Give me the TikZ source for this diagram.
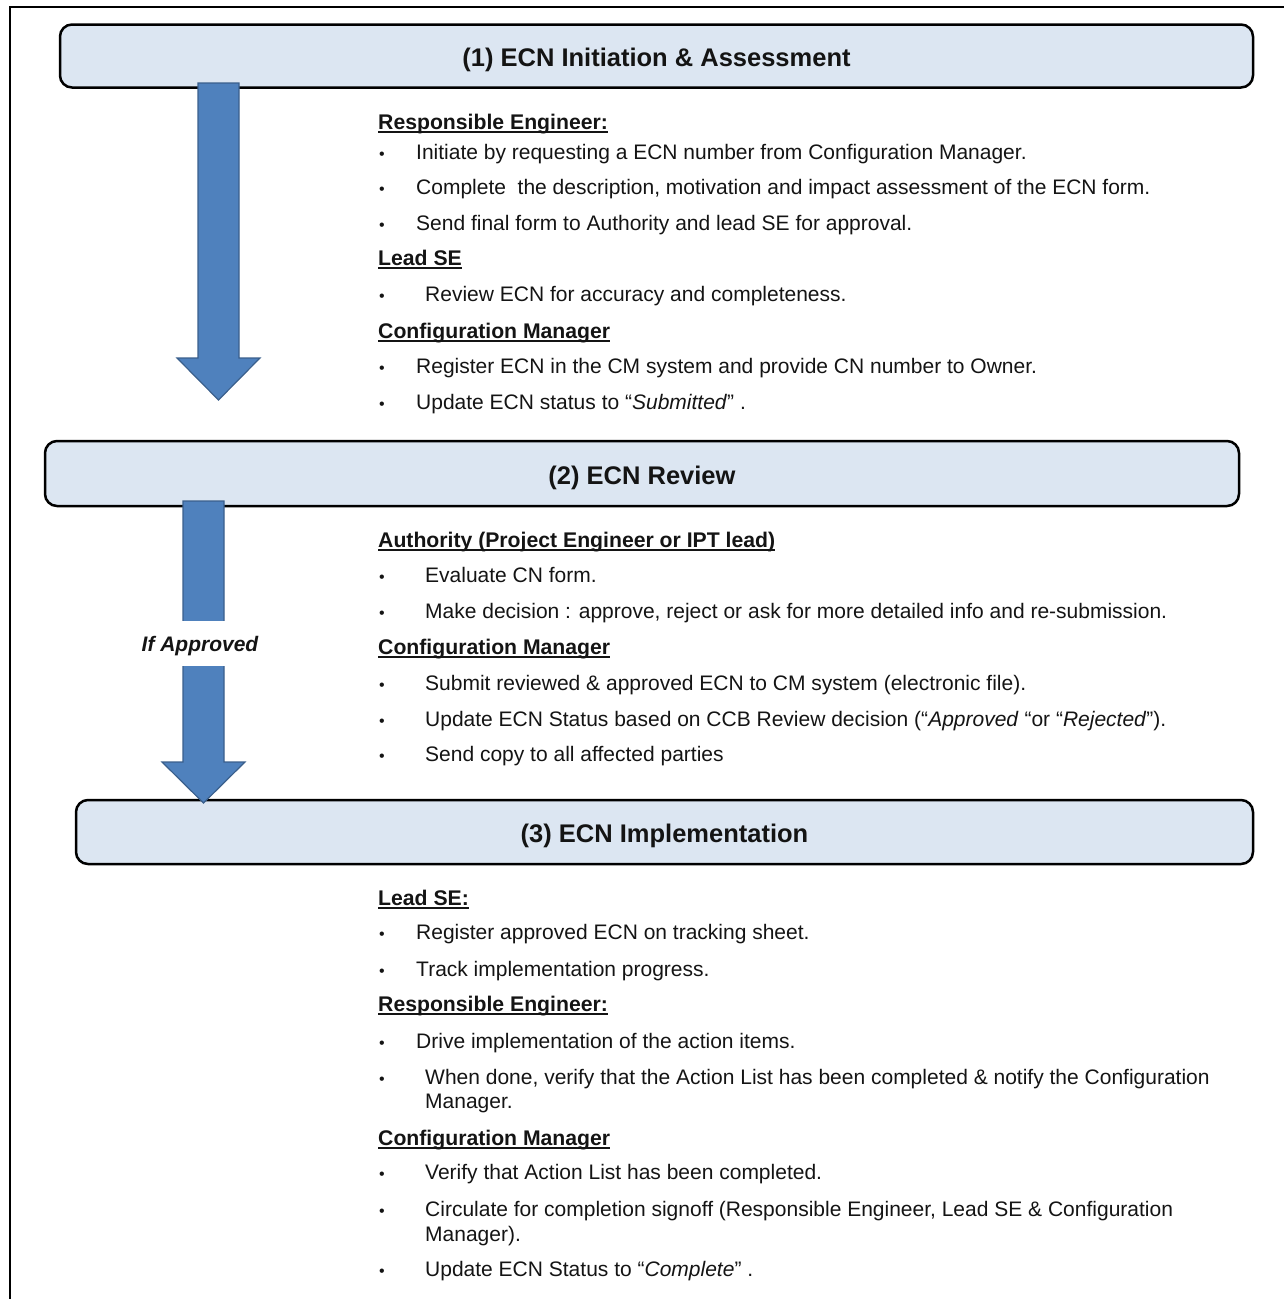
\documentclass[tikz,border=0pt]{standalone}
\usepackage{fontspec}
\setmainfont{Liberation Sans}
\definecolor{boxfill}{HTML}{DCE6F2}
\definecolor{arrfill}{HTML}{4F81BD}
\definecolor{arrline}{HTML}{3A5F8C}
\definecolor{txtcol}{HTML}{141414}
\newcommand\hditem[3]{%
  \node[hd] (#1) at (378,#2) {#3};
  \draw[uline] ([yshift=-3pt]#1.base west) -- ([yshift=-3pt]#1.base east);}
\newcommand\blitem[4]{%
  \node[bul] (#1b) at (382,#2) {•};
  \node[tx] (#1) at (#3,#2) {#4};}
\newcommand\txitem[4]{\node[tx] (#1) at (#3,#2) {#4};}
\begin{document}
\begin{tikzpicture}[x=1pt,y=-1pt,
  stagebox/.style={draw=black, line width=2.5pt, rounded corners=12pt, fill=boxfill, inner sep=0pt},
  stagetitle/.style={font=\bfseries\fontsize{25.5}{30}\selectfont, text=txtcol, yshift=-4pt},
  blockarrow/.style={fill=arrfill, draw=arrline, line width=1.2pt, line join=miter},
  hd/.style={anchor=base west, inner sep=0pt, text=txtcol, font=\bfseries\fontsize{21.2}{25}\selectfont},
  tx/.style={anchor=base west, inner sep=0pt, text=txtcol, font=\fontsize{21}{25}\selectfont},
  bul/.style={anchor=base, inner sep=0pt, text=txtcol, font=\fontsize{16}{20}\selectfont},
  uline/.style={line width=1.6pt, draw=txtcol},
  frame/.style={line width=2pt, draw=black}]
\useasboundingbox (0,0) rectangle (1284,1299);
% outer frame
\draw[frame] (10,1299) -- (10,7) -- (1284,7);
% stage boxes
\node[stagebox, minimum width=1193pt, minimum height=63pt] (box1) at (656.5,56) {};
\node[stagetitle] (title1) at (box1.center) {(1) ECN Initiation \& Assessment};
\node[stagebox, minimum width=1194pt, minimum height=65pt] (box2) at (642,473.5) {};
\node[stagetitle] (title2) at (box2.center) {(2) ECN Review};
\node[stagebox, minimum width=1177pt, minimum height=64pt] (box3) at (664.5,832) {};
\node[stagetitle] (title3) at (box3.center) {(3) ECN Implementation};
% block arrows
\draw[blockarrow] (198,83) -- (239,83) -- (239,358) -- (260,358) -- (218.5,400) -- (177,358) -- (198,358) -- cycle;
\draw[blockarrow] (183,501) -- (224,501) -- (224,762) -- (245,762) -- (203.5,803) -- (162,762) -- (183,762) -- cycle;
\node[fill=white, inner sep=0pt, minimum height=45pt, minimum width=124pt, text height=20pt, text depth=5pt, text=txtcol,
      font=\bfseries\itshape\fontsize{21}{25}\selectfont] (approved) at (200,643.5) {If Approved};
% section 1
\hditem{h11}{129}{Responsible Engineer:}
\blitem{a1}{159}{416}{Initiate by requesting a ECN number from Configuration Manager.}
\blitem{a2}{194}{416}{Complete \ the description, motivation and impact assessment of the ECN form.}
\blitem{a3}{230}{416}{Send final form to Authority and lead SE for approval.}
\hditem{h12}{265}{Lead SE}
\blitem{a4}{301}{425}{Review ECN for accuracy and completeness.}
\hditem{h13}{338}{Configuration Manager}
\blitem{a5}{373}{416}{Register ECN in the CM system and provide CN number to Owner.}
\blitem{a6}{409}{416}{Update ECN status to “\textit{Submitted}” .}
% section 2
\hditem{h21}{547}{Authority (Project Engineer or IPT lead)}
\blitem{b1}{582}{425}{Evaluate CN form.}
\blitem{b2}{618}{425}{Make decision : approve, reject or ask for more detailed info and re-submission.}
\hditem{h22}{654}{Configuration Manager}
\blitem{b3}{690}{425}{Submit reviewed \& approved ECN to CM system (electronic file).}
\blitem{b4}{726}{425}{Update ECN Status based on CCB Review decision (“\textit{Approved} “or “\textit{Rejected}”).}
\blitem{b5}{761}{425}{Send copy to all affected parties}
% section 3
\hditem{h31}{905}{Lead SE:}
\blitem{c1}{939}{416}{Register approved ECN on tracking sheet.}
\blitem{c2}{976}{416}{Track implementation progress.}
\hditem{h32}{1011}{Responsible Engineer:}
\blitem{c3}{1048}{416}{Drive implementation of the action items.}
\blitem{c4}{1084}{425}{When done, verify that the Action List has been completed \& notify the Configuration}
\txitem{c4x}{1108}{425}{Manager.}
\hditem{h33}{1145}{Configuration Manager}
\blitem{c5}{1179}{425}{Verify that Action List has been completed.}
\blitem{c6}{1216}{425}{Circulate for completion signoff (Responsible Engineer, Lead SE \& Configuration}
\txitem{c6x}{1241}{425}{Manager).}
\blitem{c7}{1276}{425}{Update ECN Status to “\textit{Complete}” .}
\end{tikzpicture}
\end{document}
